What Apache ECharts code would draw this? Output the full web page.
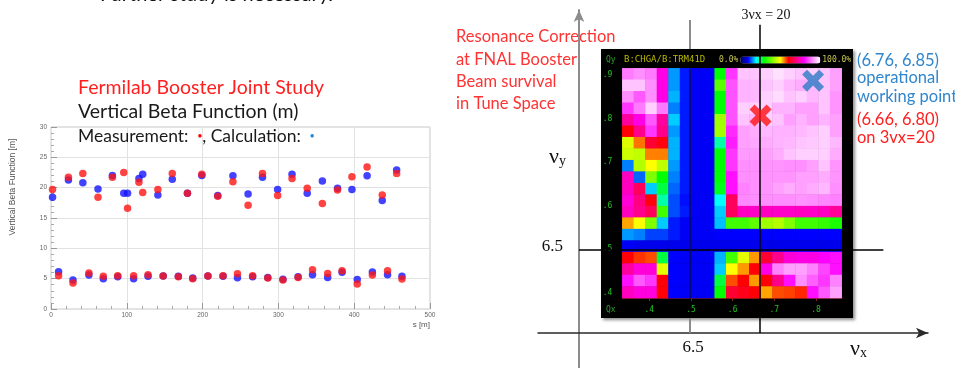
<!DOCTYPE html>
<html>
<head>
<meta charset="utf-8">
<script src="https://cdn.jsdelivr.net/npm/echarts@6/dist/echarts.min.js"></script>
<style>
html, body { margin: 0; padding: 0; background: #fff; }
#main { width: 955px; height: 368px; }
</style>
</head>
<body>
<div id="main"></div>
<script>
// ---- left: vertical beta function [m] along the ring, s [m] ----
var sUpper = [2, 23, 42, 62, 81, 96, 101, 116, 121, 141, 160, 180, 199, 220, 240, 260, 279, 299, 318, 338, 358, 378, 397, 417, 437, 456];
var measUpper = [19.7, 21.7, 22.35, 18.4, 21.7, 22.5, 16.6, 20.9, 19.2, 19.7, 22.35, 19.06, 22.2, 18.6, 20.97, 17.1, 22.35, 18.7, 21.5, 19.9, 17.4, 19.6, 21.8, 23.4, 18.8, 22.35];
var calcUpper = [18.4, 21.25, 20.8, 19.77, 22.0, 19.06, 19.06, 21.5, 22.2, 18.8, 21.4, 19.1, 22.0, 18.7, 21.96, 18.95, 21.7, 19.7, 22.2, 19.06, 21.1, 19.9, 19.7, 21.96, 17.9, 22.9];
var sLower = [10, 29, 50, 69, 88, 109, 128, 148, 168, 187, 207, 227, 246, 266, 286, 306, 326, 345, 365, 384, 404, 424, 444, 463];
var measLower = [5.5, 4.3, 5.93, 5.4, 5.5, 5.5, 5.65, 5.45, 5.3, 5.0, 5.45, 5.5, 5.82, 5.5, 5.1, 4.78, 5.2, 6.48, 5.87, 6.3, 4.12, 5.6, 6.3, 4.94];
var calcLower = [6.15, 4.8, 5.6, 5.0, 5.3, 5.0, 5.4, 5.45, 5.4, 5.1, 5.45, 5.4, 5.16, 5.33, 5.2, 4.9, 5.33, 5.65, 5.2, 6.04, 4.88, 6.1, 5.65, 5.4];

// ---- right: beam survival [%] in tune space, rows from top (high νy) to bottom ----
var survival = [
    [89, 90.5, 89, 78, 16, 11, 9.5, 9.5, 30, 84, 95, 95, 96, 97.5, 96, 95, 96, 95, 92],
    [95, 95, 90.5, 78, 16, 11, 9.5, 9.5, 37, 86, 93.5, 94, 95, 96, 94, 93, 94, 95, 92],
    [90.5, 86.5, 90.5, 78, 17, 11, 9.5, 9.5, 30, 86, 93.5, 94, 96, 97, 95, 96, 94, 95, 91],
    [84, 89, 96, 89, 15, 11, 9.5, 9.5, 30, 86, 96, 96, 96, 93.5, 93.5, 92, 92, 95, 91],
    [72.5, 78, 86.5, 72.5, 18, 11, 9.5, 9.5, 42.5, 86, 95, 94, 96, 95, 92, 93.5, 92, 93.5, 92],
    [60.5, 71, 84, 71, 16, 11, 9.5, 9.5, 43, 83, 92, 93, 94, 93.5, 93.5, 94, 95, 96, 92],
    [47.5, 55.5, 64, 61, 17, 11, 9.5, 9.5, 23.5, 82, 92, 92.5, 93, 93.5, 94, 95, 95.5, 96, 94],
    [46, 45, 55, 55, 17, 11, 9.5, 9.5, 30, 84, 91.5, 91.5, 92, 93, 95, 96, 96, 96, 93],
    [15, 44, 50, 45, 16, 11, 9.5, 9.5, 30, 84, 90.5, 90.5, 91, 91, 90.5, 90.5, 92, 95, 91],
    [75, 14, 40, 30, 15, 11, 9.5, 9.5, 30, 81, 90.5, 90.5, 91, 91, 91, 92, 92, 93, 91],
    [75, 67, 18, 27.5, 14, 11, 9.5, 9.5, 29, 81, 89.5, 90.5, 91, 92, 93, 92, 93, 94, 90.5],
    [77, 70, 61, 23.5, 13, 10.5, 9.5, 9.5, 20, 67, 90, 90.5, 90.5, 90.5, 90.5, 91, 90.5, 90, 89.5],
    [75, 71, 67, 35, 13, 11, 9.5, 9.5, 18, 67, 75, 75.5, 75, 75.5, 75.5, 75, 75.5, 75, 72],
    [53.5, 50, 40, 18, 11, 9.5, 9.5, 9.5, 17.5, 35, 35, 37.5, 42.5, 44, 40, 35, 35, 34, 32],
    [16, 15, 12.5, 12.5, 11, 9.5, 9.5, 9.5, 10, 10, 10, 10, 10, 10, 10, 10, 10, 10, 10],
    [9.5, 9, 9, 9, 9, 9, 9, 9, 9, 9, 9, 9, 9, 9, 9, 9, 9, 9, 9],
    [60.5, 58, 57, 27.5, 10, 9.5, 9.5, 9.5, 17, 35, 48, 54, 64, 71, 77, 78, 78, 80, 81],
    [72.5, 77, 77, 48, 10, 9.5, 9.5, 9.5, 18, 50, 54, 60.5, 78, 89.5, 92, 92, 89.5, 85, 81],
    [81, 86.5, 84, 60.5, 10, 9.5, 9.5, 9.5, 27.5, 57, 60, 54, 60.5, 71, 81, 90.5, 87, 84, 89.5],
    [75, 77.5, 77.5, 60.5, 10, 9.5, 9.5, 9.5, 30, 64, 62, 60.5, 53.5, 57, 57.5, 58.5, 81, 86.5, 92]
];
var survivalColors = ['#000050', '#0000ff', '#00ffff', '#00ff00', '#80ff00', '#ffff00', '#ff0000', '#ff0080', '#ff00ff', '#ff88ff', '#ffffff'];

// working points (fractional tunes as placed on the scan)
var operationalPoint = [0.793, 0.887];
var resonancePoint = [0.667, 0.807];

// tune-space guide lines
var halfInteger = 6.5;
var thirdOrder = 20 / 3;   // 3νx = 20

function drawBetaAndTuneCharts() {
    var chartDom = document.getElementById('main');
    var myChart = echarts.init(chartDom);
    var option;

    var measData = [], calcData = [];
    sUpper.forEach(function (s, i) { measData.push([s, measUpper[i]]); calcData.push([s, calcUpper[i]]); });
    sLower.forEach(function (s, i) { measData.push([s, measLower[i]]); calcData.push([s, calcLower[i]]); });

    var cells = [];
    survival.forEach(function (row, r) {
        row.forEach(function (v, c) { cells.push([c, r, v]); });
    });
    var colCats = survival[0].map(function (_, i) { return i; });
    var rowCats = survival.map(function (_, i) { return i; });

    var fracLabel = function (v) { return String(+v.toFixed(1)).replace(/^0/, ''); };
    var crossPath = 'path://M0,4.5L4.5,0L10,5.5L15.5,0L20,4.5L14.5,10L20,15.5L15.5,20L10,14.5L4.5,20L0,15.5L5.5,10Z';
    var slideFont = 'Lato';
    var serif = 'Liberation Serif';
    var mono = 'DejaVu Sans Mono';

    option = {
        animation: false,
        textStyle: { fontFamily: 'Liberation Sans' },
        grid: [
            { left: 51, top: 127, width: 379, height: 182, show: true, borderColor: '#c8c8c8', borderWidth: 1 },
            { left: 579, right: 27, top: 10, bottom: 0 },
            { left: 538, right: 27, top: 300, bottom: 35 },
            { left: 601, top: 49, width: 252, height: 269, show: true, backgroundColor: '#000', borderWidth: 0,
              shadowColor: 'rgba(0,0,0,0.45)', shadowBlur: 3, shadowOffsetX: 2, shadowOffsetY: 2 },
            { left: 622.3, top: 68.3, width: 219.4, height: 229.7 },
            { left: 622.3, top: 68.3, width: 219.4, height: 229.7 }
        ],
        xAxis: [
            { gridIndex: 0, type: 'value', min: 0, max: 500, interval: 100,
              axisLine: { show: false },
              axisTick: { inside: true, length: 6, lineStyle: { color: '#999' } },
              minorTick: { show: true, splitNumber: 5, length: 3, lineStyle: { color: '#aaa' } },
              axisLabel: { fontSize: 6.5, color: '#666', margin: 3 },
              splitLine: { lineStyle: { color: '#e2e2e2' } } },
            { gridIndex: 1, type: 'value', min: 6.234, max: 7.07, show: false },
            { gridIndex: 2, type: 'value', min: 6.136, max: 7.07,
              axisLine: { show: true, onZero: false, symbol: ['none', 'arrow'], symbolSize: [8, 12],
                          lineStyle: { color: '#2a2a2a', width: 1.5 } },
              axisTick: { show: false }, axisLabel: { show: false }, splitLine: { show: false } },
            { gridIndex: 3, type: 'value', show: false },
            { gridIndex: 4, type: 'category', data: colCats, show: false },
            { gridIndex: 5, type: 'value', min: 0.3353, max: 0.8616,
              axisLine: { show: true, lineStyle: { color: '#6a1414' } },
              axisTick: { show: true, length: 3, lineStyle: { color: '#8a2020' } },
              axisLabel: { color: '#22c022', fontSize: 8, fontFamily: mono, margin: 8,
                           showMinLabel: false, showMaxLabel: false, formatter: fracLabel },
              splitLine: { show: false } }
        ],
        yAxis: [
            { gridIndex: 0, type: 'value', min: 0, max: 30, interval: 5,
              axisLine: { show: false },
              axisTick: { show: true, inside: true, length: 6, lineStyle: { color: '#999' } },
              minorTick: { show: true, splitNumber: 5, length: 3, lineStyle: { color: '#aaa' } },
              axisLabel: { fontSize: 6.5, color: '#666', margin: 4 },
              splitLine: { lineStyle: { color: '#e2e2e2' } } },
            { gridIndex: 1, type: 'value', min: 6.23, max: 7.05,
              axisLine: { show: true, onZero: false, symbol: ['none', 'arrow'], symbolSize: [8, 12],
                          lineStyle: { color: '#8c8c8c', width: 2 } },
              axisTick: { show: false }, axisLabel: { show: false }, splitLine: { show: false } },
            { gridIndex: 2, type: 'value', show: false },
            { gridIndex: 3, type: 'value', show: false },
            { gridIndex: 4, type: 'category', data: rowCats, inverse: true, show: false },
            { gridIndex: 5, type: 'value', min: 0.3886, max: 0.9153,
              axisLine: { show: false }, axisTick: { show: false },
              axisLabel: { color: '#22c022', fontSize: 8, fontFamily: mono, margin: 10,
                           showMinLabel: false, showMaxLabel: false, formatter: fracLabel },
              splitLine: { show: false } }
        ],
        visualMap: {
            type: 'continuous', seriesIndex: 3, min: 0, max: 100, calculable: false,
            orient: 'horizontal', left: 719, top: 56, itemWidth: 7, itemHeight: 80,
            text: ['100.0%', '0.0%'], textGap: 2, padding: 0,
            textStyle: { color: '#c8c850', fontSize: 8, fontFamily: mono },
            inRange: { color: survivalColors }
        },
        series: [
            { name: 'Calculation', type: 'scatter', xAxisIndex: 0, yAxisIndex: 0, symbolSize: 7.5,
              itemStyle: { color: '#1414ff' }, data: calcData },
            { name: 'Measurement', type: 'scatter', xAxisIndex: 0, yAxisIndex: 0, symbolSize: 7.5,
              itemStyle: { color: '#ff1414' }, data: measData },
            { name: 'guides', type: 'line', xAxisIndex: 1, yAxisIndex: 1, data: [],
              markLine: {
                  silent: true, symbol: ['none', 'none'], label: { show: false },
                  lineStyle: { color: '#8c8c8c', width: 2, type: 'solid' },
                  data: [
                      [{ coord: [halfInteger, 6.9606] }, { coord: [halfInteger, 7.027] }],
                      [{ coord: [halfInteger, 6.31] }, { coord: [halfInteger, 6.3445] }]
                  ]
              } },
            { name: 'Beam survival', type: 'heatmap', xAxisIndex: 4, yAxisIndex: 4, data: cells,
              progressive: 0, emphasis: { disabled: true } },
            { name: 'resonances', type: 'line', xAxisIndex: 1, yAxisIndex: 1, data: [], z: 5,
              markLine: {
                  silent: true, symbol: ['none', 'none'], label: { show: false },
                  lineStyle: { color: '#000', width: 1.5, type: 'solid' },
                  data: [
                      [{ coord: [thirdOrder, 6.31] }, { coord: [thirdOrder, 7.016] }],
                      [{ coord: [6.234, halfInteger] }, { coord: [6.963, halfInteger] }],
                      [{ coord: [halfInteger, 6.3886], lineStyle: { color: '#0a0a50' } },
                       { coord: [halfInteger, 6.9153] }]
                  ]
              } },
            { name: 'working points', type: 'scatter', xAxisIndex: 5, yAxisIndex: 5, z: 6,
              symbol: crossPath, symbolSize: 22,
              data: [
                  { value: operationalPoint, itemStyle: { color: '#2b7bc4' } },
                  { value: resonancePoint, itemStyle: { color: '#ff1010' } }
              ] }
        ],
        graphic: [
            { type: 'text', x: 100, y: 5, style: { text: 'Further study is necessary.', font: '20px ' + slideFont,
              fill: '#111', align: 'left', verticalAlign: 'bottom' } },
            { type: 'text', x: 78, y: 88, style: { text: 'Fermilab Booster Joint Study', font: '19.5px ' + slideFont,
              fill: '#ff1f1f', verticalAlign: 'middle' } },
            { type: 'text', x: 78, y: 112, style: { text: 'Vertical Beta Function (m)', font: '19.5px ' + slideFont,
              fill: '#1a1a1a', verticalAlign: 'middle' } },
            { type: 'text', x: 78, y: 136, z: 10, style: {
                text: 'Measurement:  {r|●}, Calculation:  {b|●}', font: '17.5px ' + slideFont,
                fill: '#1a1a1a', verticalAlign: 'middle',
                rich: { r: { fill: '#ff0000', fontSize: 8 }, b: { fill: '#1e8ae0', fontSize: 8 } } } },
            { type: 'text', x: 13, y: 187, rotation: Math.PI / 2, style: { text: 'Vertical Beta Function [m]',
              font: '8.5px Liberation Sans', fill: '#555', align: 'center', verticalAlign: 'middle' } },
            { type: 'text', x: 430, y: 325, style: { text: 's [m]', font: '8px Liberation Sans', fill: '#555',
              align: 'right', verticalAlign: 'middle' } },

            { type: 'text', x: 456, y: 70.5, style: {
                text: 'Resonance Correction\nat FNAL Booster\nBeam survival\nin Tune Space',
                font: '16.5px ' + slideFont, lineHeight: 22.4, fill: '#ff3333', verticalAlign: 'middle' } },
            { type: 'text', x: 857, y: 61, style: { text: '(6.76, 6.85)', font: '16.5px ' + slideFont, fill: '#2f86cc', verticalAlign: 'middle' } },
            { type: 'text', x: 857, y: 78, style: { text: 'operational', font: '16.5px ' + slideFont, fill: '#2f86cc', verticalAlign: 'middle' } },
            { type: 'text', x: 857, y: 97, style: { text: 'working point', font: '16.5px ' + slideFont, fill: '#2f86cc', verticalAlign: 'middle' } },
            { type: 'text', x: 857, y: 120, style: { text: '(6.66, 6.80)', font: '16.5px ' + slideFont, fill: '#ff2020', verticalAlign: 'middle' } },
            { type: 'text', x: 857, y: 138, style: { text: 'on 3vx=20', font: '16.5px ' + slideFont, fill: '#ff2020', verticalAlign: 'middle' } },

            { type: 'text', x: 766, y: 15, style: { text: '3νx = 20', font: '14px ' + serif, fill: '#111',
              align: 'center', verticalAlign: 'middle' } },
            { type: 'text', x: 563, y: 247, style: { text: '6.5', font: '17px ' + serif, fill: '#111',
              align: 'right', verticalAlign: 'middle' } },
            { type: 'text', x: 693, y: 348, style: { text: '6.5', font: '17px ' + serif, fill: '#111',
              align: 'center', verticalAlign: 'middle' } },
            { type: 'text', x: 549, y: 157, style: { text: '{a|ν}{s|y}', fill: '#111', verticalAlign: 'middle',
              rich: { a: { fontSize: 22, fontFamily: serif, verticalAlign: 'top' },
                      s: { fontSize: 14, fontFamily: serif, verticalAlign: 'bottom', padding: [8, 0, 0, 0] } } } },
            { type: 'text', x: 850, y: 349, style: { text: '{a|ν}{s|x}', fill: '#111', verticalAlign: 'middle',
              rich: { a: { fontSize: 22, fontFamily: serif, verticalAlign: 'top' },
                      s: { fontSize: 14, fontFamily: serif, verticalAlign: 'bottom', padding: [8, 0, 0, 0] } } } },

            { type: 'text', x: 606, y: 60, z: 10, style: { text: 'Qy', font: '8px ' + mono, fill: '#2ca02c', verticalAlign: 'middle' } },
            { type: 'text', x: 624, y: 60, z: 10, style: { text: 'B:CHGA/B:TRM41D', font: '9px ' + mono, fill: '#b8b800', verticalAlign: 'middle' } },
            { type: 'text', x: 606, y: 310, z: 10, style: { text: 'Qx', font: '8px ' + mono, fill: '#2ca02c', verticalAlign: 'middle' } }
        ]
    };

    option && myChart.setOption(option);
}

drawBetaAndTuneCharts();
</script>
</body>
</html>
